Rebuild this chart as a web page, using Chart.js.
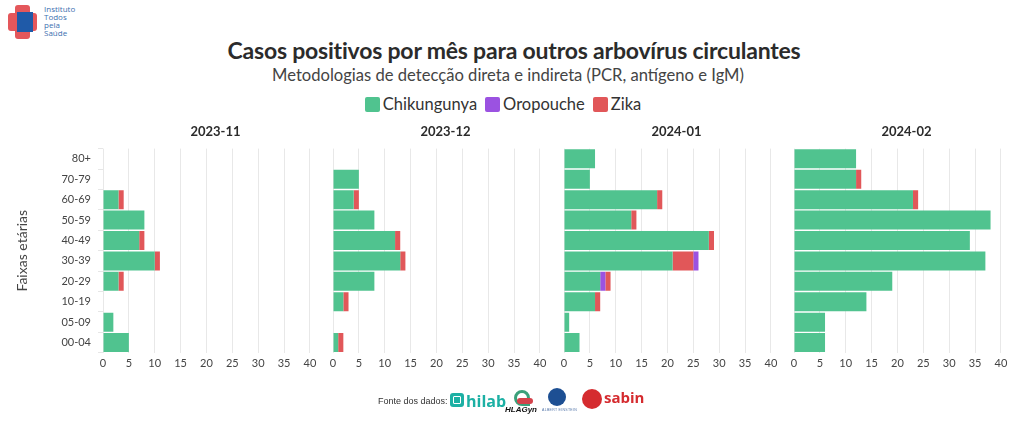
<!DOCTYPE html>
<html>
<head>
<meta charset="utf-8">
<script src="https://cdn.jsdelivr.net/npm/chart.js@4/dist/chart.umd.min.js"></script>
<style>
  body { margin: 0; width: 1020px; height: 438px; background: #fff; position: relative; overflow: hidden; font-family: Lato, sans-serif; color: #2b2b2b; }
  .abs { position: absolute; }
  #title { left: 4px; top: 36px; width: 1020px; text-align: center; font-size: 23px; font-weight: bold; color: #2b2b2b; letter-spacing: -0.2px; }
  #subtitle { left: -2px; top: 65px; width: 1020px; text-align: center; font-size: 16.6px; color: #444; }
  #legend { left: -7px; top: 94px; width: 1020px; display: flex; justify-content: center; font-size: 16.5px; color: #333; }
  #legend span.item { display: flex; align-items: center; margin: 0 4px; }
  #legend span.sw { width: 15px; height: 15px; border-radius: 2px; margin-right: 3px; }
  canvas { position: absolute; }
  /* logo */
  .crossH { left: 8px; top: 13px; width: 29px; height: 18px; background: #e4575b; border-radius: 3px; }
  .crossV { left: 15px; top: 5px; width: 15px; height: 34px; background: #e4575b; border-radius: 3px; }
  .crossB { left: 17px; top: 12px; width: 16px; height: 20px; background: #1f5aa8; }
  #logoText { left: 44px; top: 5px; font-size: 8px; line-height: 8px; color: #3c6fb0; font-family: "Open Sans", sans-serif; }
  #fonte { left: 378px; top: 396px; font-size: 9px; color: #333; font-family: "Liberation Sans", sans-serif; }
</style>
</head>
<body>
<div class="abs crossH"></div>
<div class="abs crossV"></div>
<div class="abs crossB"></div>
<div class="abs" id="logoText">Instituto<br>Todos<br>pela<br>Saúde</div>

<div class="abs" id="title">Casos positivos por mês para outros arbovírus circulantes</div>
<div class="abs" id="subtitle">Metodologias de detecção direta e indireta (PCR, antígeno e IgM)</div>
<div class="abs" id="legend"></div>

<canvas id="p0"></canvas>
<canvas id="p1"></canvas>
<canvas id="p2"></canvas>
<canvas id="p3"></canvas>

<div class="abs" id="fonte">Fonte dos dados:</div>
<!-- source logos -->
<div class="abs" style="left:450px;top:393px;width:14px;height:14px;background:#1cb0a4;border-radius:3px;"></div>
<div class="abs" style="left:453px;top:396px;width:6px;height:6px;border:1px solid #fff;border-radius:1px;"></div>
<div class="abs" style="left:466px;top:390px;font-size:16px;font-weight:bold;color:#1cb0a4;font-family:'Open Sans',sans-serif;">hilab</div>
<div class="abs" style="left:514px;top:390px;width:10px;height:10px;border:3px solid #3aa07a;border-radius:50% 50% 0 50%;"></div>
<div class="abs" style="left:517px;top:398px;width:16px;height:6px;background:#d4414a;border-radius:3px;"></div>
<div class="abs" style="left:505px;top:405px;font-size:8px;font-weight:bold;font-style:italic;color:#111;font-family:'Liberation Sans',sans-serif;">HLAGyn</div>
<div class="abs" style="left:548px;top:388px;width:18px;height:18px;background:#1d4f93;border-radius:50%;"></div>
<div class="abs" style="left:542px;top:408px;font-size:3.5px;color:#5577aa;font-family:'Liberation Sans',sans-serif;letter-spacing:0.3px;">ALBERT EINSTEIN</div>
<div class="abs" style="left:582px;top:389px;width:20px;height:20px;background:#d52b2f;border-radius:50%;"></div>
<div class="abs" style="left:604px;top:387px;font-size:15px;font-weight:bold;color:#d52b2f;font-family:'Open Sans',sans-serif;">sabin</div>

<script>
// age groups, top to bottom
const ageGroups = ["80+", "70-79", "60-69", "50-59", "40-49", "30-39", "20-29", "10-19", "05-09", "00-04"];
const months = ["2023-11", "2023-12", "2024-01", "2024-02"];
const xTicks = [0, 5, 10, 15, 20, 25, 30, 35, 40];

// one row per month, values follow ageGroups
const chikungunya = [
  [0, 0, 3, 8, 7, 10, 3, 0, 2, 5],
  [0, 5, 4, 8, 12, 13, 8, 2, 0, 1],
  [6, 5, 18, 13, 28, 21, 7, 6, 1, 3],
  [12, 12, 23, 38, 34, 37, 19, 14, 6, 6]
];
const oropouche = [
  [0, 0, 0, 0, 0, 0, 0, 0, 0, 0],
  [0, 0, 0, 0, 0, 0, 0, 0, 0, 0],
  [0, 0, 0, 0, 0, 1, 1, 0, 0, 0],
  [0, 0, 0, 0, 0, 0, 0, 0, 0, 0]
];
const zika = [
  [0, 0, 1, 0, 1, 1, 1, 0, 0, 0],
  [0, 0, 1, 0, 1, 1, 0, 1, 0, 1],
  [0, 0, 1, 1, 1, 4, 1, 1, 0, 0],
  [0, 1, 1, 0, 0, 0, 0, 0, 0, 0]
];
// rows where the Oropouche segment sits after Zika in the original
const oroAfterZika = [[], [], ["30-39"], []];

const colors = { Chikungunya: "#50c38f", Oropouche: "#9b52e1", Zika: "#e15759" };
const FONT = "Lato";

// legend
const legend = document.getElementById("legend");
Object.keys(colors).forEach(name => {
  const item = document.createElement("span");
  item.className = "item";
  item.innerHTML = `<span class="sw" style="background:${colors[name]}"></span>${name}`;
  legend.appendChild(item);
});

const plotLeft = [103, 333, 564, 794];
const plotWidth = 225;
const TOP = 118, HEIGHT = 256;

months.forEach((month, i) => {
  const canvas = document.getElementById("p" + i);
  const padLeft = i === 0 ? 0 : 12;
  const left = i === 0 ? 0 : plotLeft[i] - padLeft;
  const width = i === 0 ? plotLeft[0] + plotWidth : plotWidth + padLeft;
  canvas.width = width;
  canvas.height = HEIGHT;
  canvas.style.left = left + "px";
  canvas.style.top = TOP + "px";

  const late = oroAfterZika[i];
  const oroEarly = oropouche[i].map((v, k) => late.includes(ageGroups[k]) ? 0 : v);
  const oroLate = oropouche[i].map((v, k) => late.includes(ageGroups[k]) ? v : 0);

  const datasets = [
    { label: "Chikungunya", data: chikungunya[i], backgroundColor: colors.Chikungunya },
    { label: "Oropouche", data: oroEarly, backgroundColor: colors.Oropouche },
    { label: "Zika", data: zika[i], backgroundColor: colors.Zika },
    { label: "Oropouche ", data: oroLate, backgroundColor: colors.Oropouche }
  ];

  const yScale = {
    stacked: true,
    display: i === 0,
    border: { display: false },
    grid: { drawOnChartArea: false, drawTicks: true, tickLength: 5, color: "#e6e6e6" },
    ticks: { padding: 7, color: "#444", font: { family: FONT, size: 11 } },
    title: {
      display: true,
      text: "Faixas etárias",
      color: "#444",
      font: { family: FONT, size: 14 },
      padding: { top: 14, bottom: 0 }
    }
  };
  if (i === 0) yScale.afterFit = s => { s.width = plotLeft[0]; };

  new Chart(canvas.getContext("2d"), {
    type: "bar",
    data: { labels: ageGroups, datasets },
    options: {
      indexAxis: "y",
      responsive: false,
      animation: false,
      layout: { padding: { left: padLeft, right: 0, top: 0, bottom: 0 } },
      datasets: { bar: { categoryPercentage: 0.93, barPercentage: 1, borderWidth: 0 } },
      plugins: {
        legend: { display: false },
        tooltip: { enabled: false },
        title: {
          display: true,
          fullSize: false,
          text: month,
          color: "#2b2b2b",
          font: { family: FONT, size: 13, weight: "bold" },
          padding: { top: 6, bottom: 9 }
        }
      },
      scales: {
        x: {
          stacked: true,
          min: 0,
          max: 43.5,
          border: { display: false },
          grid: { color: "#e8e8e8", drawTicks: false },
          ticks: { padding: 4, color: "#444", font: { family: FONT, size: 11 }, maxRotation: 0, autoSkip: false },
          afterBuildTicks: s => { s.ticks = xTicks.map(v => ({ value: v })); }
        },
        y: yScale
      }
    }
  });
});
</script>
</body>
</html>
